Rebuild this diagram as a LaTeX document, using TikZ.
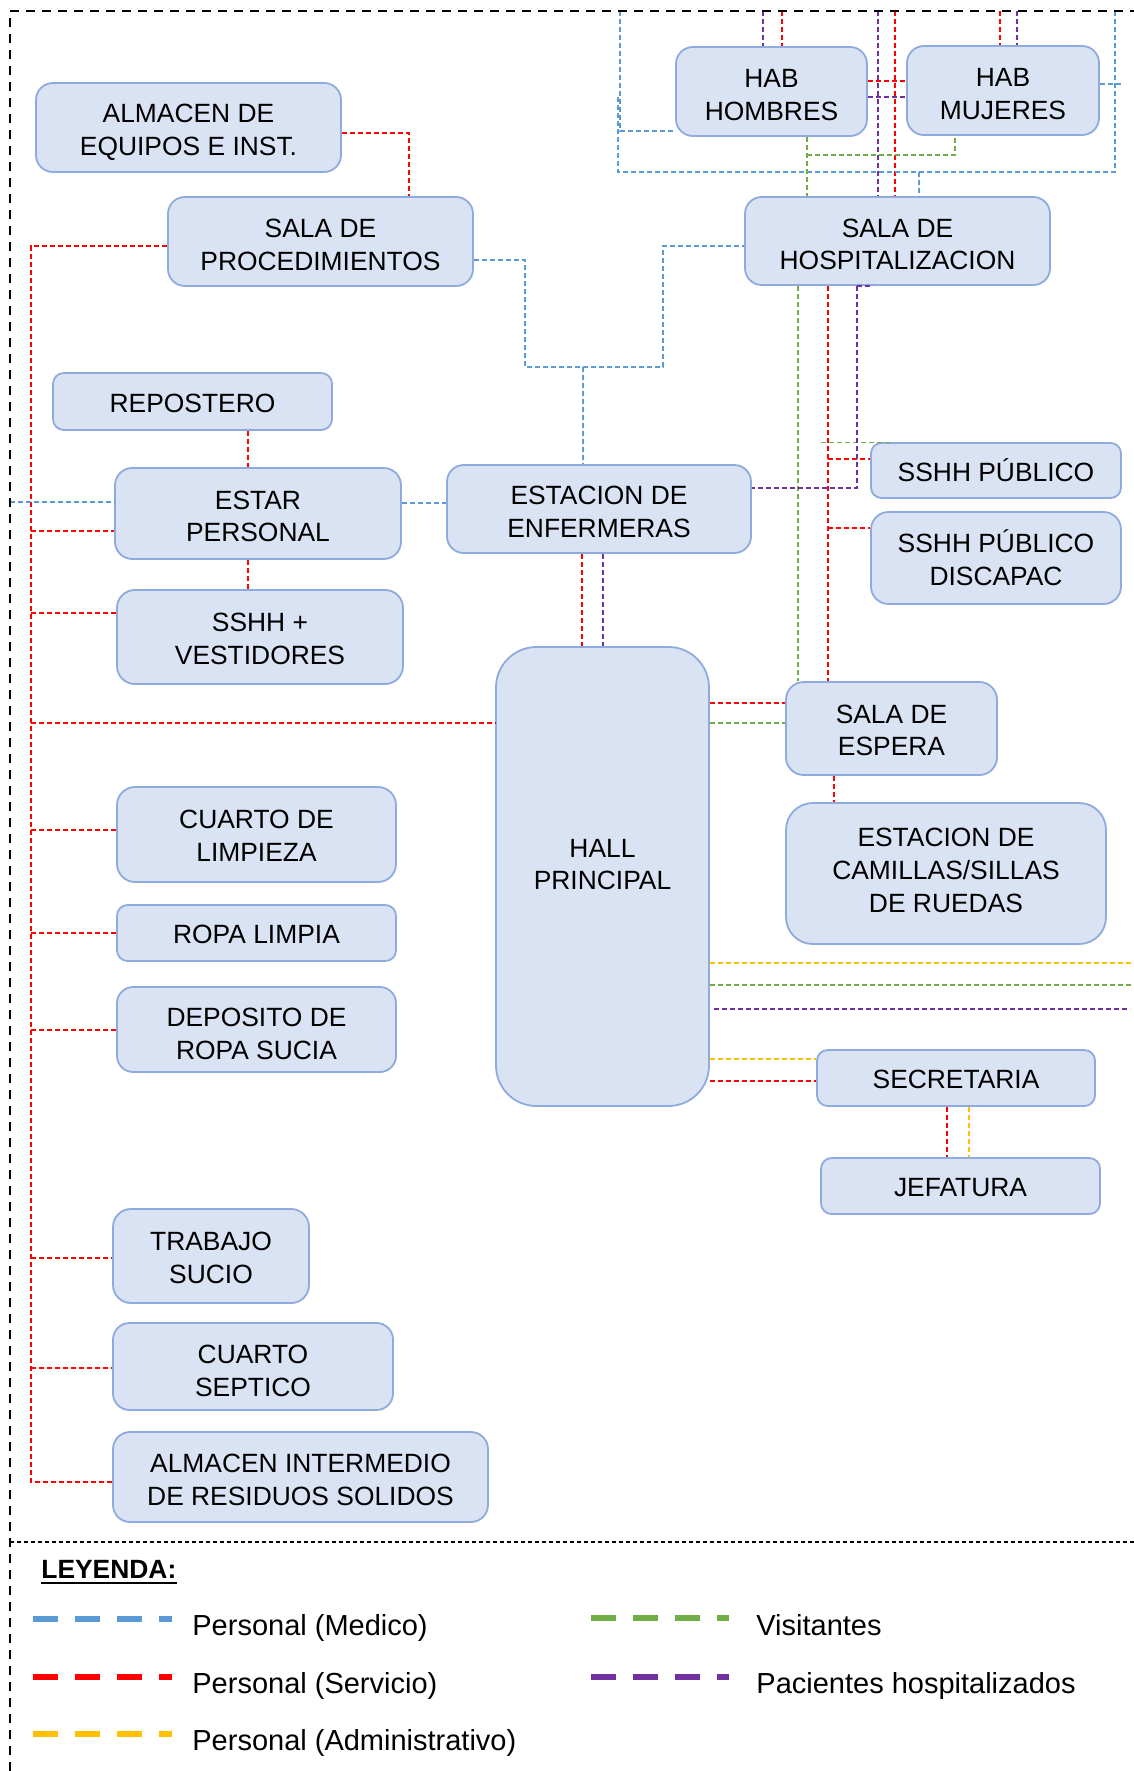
\documentclass[tikz,border=0pt]{standalone}
\usepackage{fontspec}
\setmainfont{Liberation Sans}
\definecolor{boxfill}{HTML}{DAE3F3}
\definecolor{boxline}{HTML}{8FAADC}
\definecolor{cblue}{HTML}{5B9BD5}
\definecolor{cred}{HTML}{FF0000}
\definecolor{cgreen}{HTML}{70AD47}
\definecolor{cpurple}{HTML}{7030A0}
\definecolor{cyellow}{HTML}{FFC000}
\newcommand{\boxfont}{\fontsize{13.2}{16.4}\selectfont}
\newcommand{\legfont}{\fontsize{14.5}{17}\selectfont}
% room box given by its corners (x1,y1,x2,y2) in pixel units,
% its label and the label's downward offset
\newcommand{\roombox}[7]{%
  \pgfmathsetmacro{\rbw}{#4-#2}%
  \pgfmathsetmacro{\rbh}{#5-#3}%
  \pgfmathsetmacro{\rbr}{0.19*min(\rbw,\rbh)}%
  \node[room, minimum width=\rbw*0.5pt, minimum height=\rbh*0.5pt,
        rounded corners=\rbr*0.5pt] (#1) at ({(#2+#4)/2},{(#3+#5)/2}) {};%
  \node[roomlabel] (#1-label) at ({(#2+#4)/2},{(#3+#5)/2+#7}) {#6};%
}
\tikzset{
  room/.style={draw=boxline, fill=boxfill, line width=0.9pt, inner sep=0pt},
  roomlabel/.style={align=center, inner sep=0pt, font=\boxfont, text=black},
  link/.style={line width=0.6pt, dash pattern=on 2.4pt off 1.6pt},
  medico/.style={link, draw=cblue},
  servicio/.style={link, draw=cred},
  admin/.style={link, draw=cyellow},
  visita/.style={link, draw=cgreen},
  paciente/.style={link, draw=cpurple},
  frame/.style={line width=1.25pt, dash pattern=on 4.5pt off 3.5pt, draw=black},
  divider/.style={line width=0.7pt, dash pattern=on 2pt off 1.5pt, draw=black},
  legline/.style={line width=2.6pt, dash pattern=on 12.5pt off 8.5pt},
  legtext/.style={font=\legfont, inner sep=0pt, anchor=base west}
}
\begin{document}
\begin{tikzpicture}[x=0.5pt, y=-0.5pt]
\useasboundingbox (0,0) rectangle (1134,1771);

% ---------- rooms ----------
\roombox{almacen}{36}{83}{341}{172}{ALMACEN DE\\EQUIPOS E INST.}{5}
\roombox{proc}{168}{197}{473}{286}{SALA DE\\PROCEDIMIENTOS}{3.5}
\roombox{hombres}{676}{47}{867}{136}{HAB\\HOMBRES}{3.5}
\roombox{mujeres}{907}{46}{1099}{135}{HAB\\MUJERES}{3.5}
\roombox{hosp}{745}{197}{1050}{285}{SALA DE\\HOSPITALIZACION}{3.5}
\roombox{repostero}{53}{373}{332}{430}{REPOSTERO}{2}
\roombox{estar}{115}{468}{401}{559}{ESTAR\\PERSONAL}{3}
\roombox{enf}{447}{465}{751}{553}{ESTACION DE\\ENFERMERAS}{3}
\roombox{sshhv}{117}{590}{403}{684}{SSHH +\\VESTIDORES}{2}
\roombox{pub}{871}{443}{1121}{498}{SSHH PÚBLICO}{0}
\roombox{disc}{871}{512}{1121}{604}{SSHH PÚBLICO\\DISCAPAC}{0}
\roombox{hall}{496}{647}{709}{1106}{HALL\\PRINCIPAL}{-12}
\roombox{espera}{786}{682}{997}{775}{SALA DE\\ESPERA}{2}
\roombox{camillas}{786}{803}{1106}{944}{ESTACION DE\\CAMILLAS/SILLAS\\DE RUEDAS}{-3}
\roombox{limpieza}{117}{787}{396}{882}{CUARTO DE\\LIMPIEZA}{1}
\roombox{ropal}{117}{905}{396}{961}{ROPA LIMPIA}{1}
\roombox{deposito}{117}{987}{396}{1072}{DEPOSITO DE\\ROPA SUCIA}{4.5}
\roombox{sec}{817}{1050}{1095}{1106}{SECRETARIA}{1}
\roombox{jef}{821}{1158}{1100}{1214}{JEFATURA}{2}
\roombox{trabajo}{113}{1209}{309}{1303}{TRABAJO\\SUCIO}{2}
\roombox{septico}{113}{1323}{393}{1410}{CUARTO\\SEPTICO}{4.5}
\roombox{almint}{113}{1432}{488}{1522}{ALMACEN INTERMEDIO\\DE RESIDUOS SOLIDOS}{3}

% ---------- free ends ----------
\coordinate (topA) at (620,11);
\coordinate (topB) at (1115,11);
\coordinate (edgeL) at (10,502);
\coordinate (edgeY) at (1134,963);
\coordinate (edgeG) at (1134,985);
\coordinate (edgeP) at (1130,1009);
\coordinate (edgeM) at (1123,84);

% ---------- Personal (Servicio) ----------
\draw[servicio] (almacen.east |- 0,133) -- (409,133) -- (proc.north -| 409,0);
\draw[servicio] (proc.west |- 0,246) -- (31,246) -- (31,1482) -- (almint.west |- 0,1482);
\draw[servicio] (31,531) -- (estar.west |- 0,531);
\draw[servicio] (31,613) -- (sshhv.west |- 0,613);
\draw[servicio] (31,723) -- (hall.west |- 0,723);
\draw[servicio] (31,830) -- (limpieza.west |- 0,830);
\draw[servicio] (31,933) -- (ropal.west |- 0,933);
\draw[servicio] (31,1030) -- (deposito.west |- 0,1030);
\draw[servicio] (31,1258) -- (trabajo.west |- 0,1258);
\draw[servicio] (31,1368) -- (septico.west |- 0,1368);
\draw[servicio] (repostero.south -| 248,0) -- (estar.north -| 248,0);
\draw[servicio] (estar.south -| 248,0) -- (sshhv.north -| 248,0);
\draw[servicio] (782,11) -- (hombres.north -| 782,0);
\draw[servicio] (1000,11) -- (mujeres.north -| 1000,0);
\draw[servicio] (895,11) -- (hosp.north -| 895,0);
\draw[servicio] (hombres.east |- 0,81) -- (mujeres.west |- 0,81);
\draw[servicio] (hosp.south -| 828,0) -- (espera.north -| 828,0);
\draw[servicio] (828,459) -- (pub.west |- 0,459);
\draw[servicio] (828,528) -- (disc.west |- 0,528);
\draw[servicio] (enf.south -| 582,0) -- (hall.north -| 582,0);
\draw[servicio] (hall.east |- 0,703) -- (espera.west |- 0,703);
\draw[servicio] (espera.south -| 834,0) -- (camillas.north -| 834,0);
\draw[servicio] (hall.east |- 0,1081) -- (sec.west |- 0,1081);
\draw[servicio] (sec.south -| 947,0) -- (jef.north -| 947,0);

% ---------- Personal (Medico) ----------
\draw[medico] (proc.east |- 0,260) -- (525,260) -- (525,367) -- (663,367) -- (663,246) -- (hosp.west |- 0,246);
\draw[medico] (583,367) -- (enf.north -| 583,0);
\draw[medico] (estar.east |- 0,503) -- (enf.west |- 0,503);
\draw[medico] (edgeL) -- (estar.west |- edgeL);
\draw[medico] (topA) -- (620,131) -- (hombres.west |- 0,131);
\draw[medico] (618,97) -- (618,172) -- (1115,172) -- (topB);
\draw[medico] (919,172) -- (hosp.north -| 919,0);
\draw[medico] (mujeres.east |- edgeM) -- (edgeM);

% ---------- Visitantes ----------
\draw[visita] (hombres.south -| 807,0) -- (hosp.north -| 807,0);
\draw[visita] (807,155) -- (955,155) -- (mujeres.south -| 955,0);
\draw[visita] (hosp.south -| 798,0) -- (espera.north -| 798,0);
\draw[visita] (pub.north -| 821,0) -- (pub.north -| 892,0);
\draw[visita] (hall.east |- 0,723) -- (espera.west |- 0,723);
\draw[visita] (hall.east |- edgeG) -- (edgeG);

% ---------- Pacientes hospitalizados ----------
\draw[paciente] (763,11) -- (hombres.north -| 763,0);
\draw[paciente] (1017,11) -- (mujeres.north -| 1017,0);
\draw[paciente] (878,11) -- (hosp.north -| 878,0);
\draw[paciente] (hombres.east |- 0,97) -- (mujeres.west |- 0,97);
\draw[paciente] (hosp.south -| 857,0) -- (857,488) -- (enf.east |- 0,488);
\draw[paciente] (hosp.south -| 857,0) -- (hosp.south -| 873,0);
\draw[paciente] (enf.south -| 603,0) -- (hall.north -| 603,0);
\draw[paciente] (714,1009) -- (edgeP);

% ---------- Personal (Administrativo) ----------
\draw[admin] (hall.east |- edgeY) -- (edgeY);
\draw[admin] (hall.east |- 0,1059) -- (sec.west |- 0,1059);
\draw[admin] (sec.south -| 969,0) -- (jef.north -| 969,0);

% ---------- outline ----------
\draw[frame] (10,1771) -- (10,11) -- (1134,11);
\draw[divider] (10,1542) -- (1134,1542);

% ---------- legend ----------
\node[font=\fontsize{13.2}{16}\selectfont\bfseries, inner sep=0pt, anchor=base west] (ley) at (41,1578) {LEYENDA:};
\draw[line width=1.1pt] ([yshift=-2.6pt]ley.base west) -- ([yshift=-2.6pt]ley.base east);

\draw[legline, cblue] (33,1619) -- (172,1619);
\node[legtext] (lmed) at (192,1635) {Personal (Medico)};
\draw[legline, cred] (33,1677) -- (172,1677);
\node[legtext] (lser) at (192,1693) {Personal (Servicio)};
\draw[legline, cyellow] (33,1734) -- (172,1734);
\node[legtext] (ladm) at (192,1750) {Personal (Administrativo)};
\draw[legline, cgreen] (591,1618) -- (729,1618);
\node[legtext] (lvis) at (756,1635) {Visitantes};
\draw[legline, cpurple] (591,1677) -- (729,1677);
\node[legtext] (lpac) at (756,1693) {Pacientes hospitalizados};
\end{tikzpicture}
\end{document}
